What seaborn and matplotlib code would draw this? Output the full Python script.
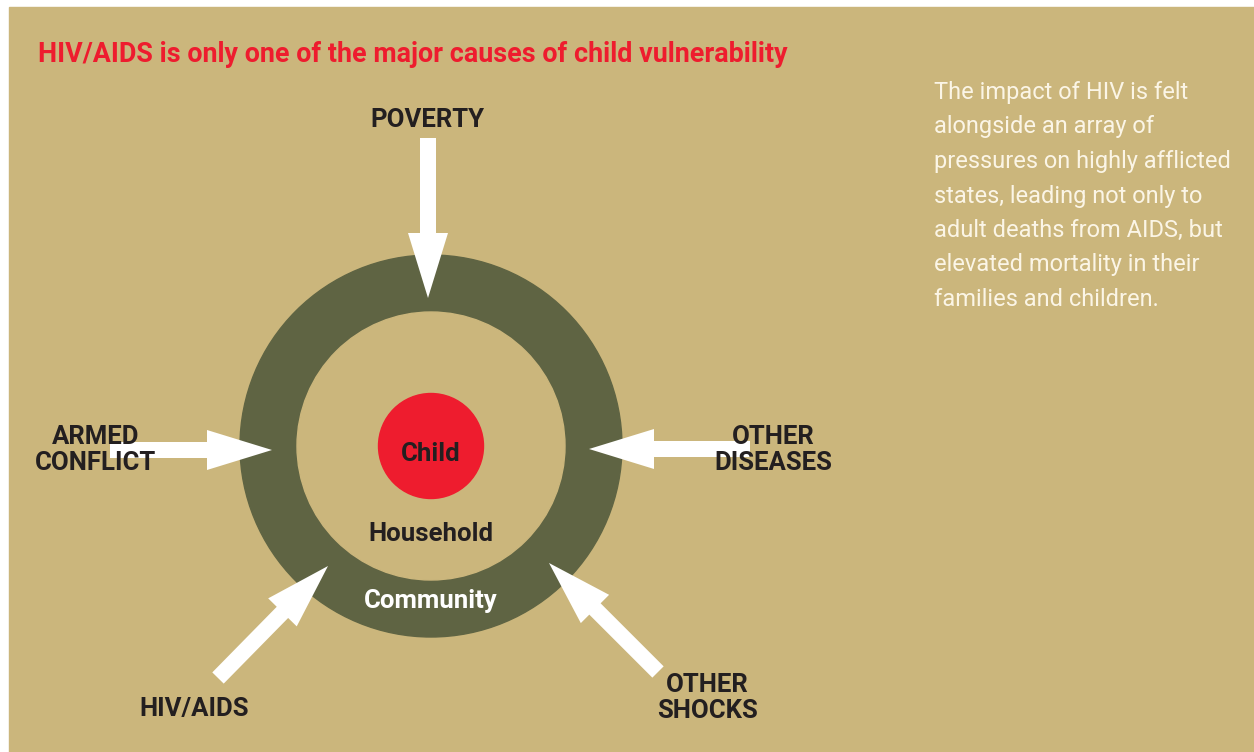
import matplotlib
matplotlib.use('Agg')
from matplotlib import pyplot as plt
from matplotlib.patches import Circle, Rectangle, FancyArrow
import seaborn as sns

# text content of the diagram
title = 'HIV/AIDS is only one of the major causes of child vulnerability'
causes = ['POVERTY', 'ARMED\nCONFLICT', 'OTHER\nDISEASES', 'HIV/AIDS', 'OTHER\nSHOCKS']
levels = ['Child', 'Household', 'Community']
note_lines = ['The impact of HIV is felt',
              'alongside an array of',
              'pressures on highly afflicted',
              'states, leading not only to',
              'adult deaths from AIDS, but',
              'elevated mortality in their',
              'families and children.']

# colours
tan = '#CBB67C'
olive = '#5F6443'
red = '#EE1C2E'
dark = '#231F20'
cream = '#FBF5E6'

sns.set_theme(style='white')
plt.rcParams['font.family'] = ['Roboto', 'DejaVu Sans']

fig = plt.figure(figsize=(12.54, 7.52), dpi=100)
ax = fig.add_axes([0, 0, 1, 1])
ax.set_xlim(0, 1254)
ax.set_ylim(752, 0)
ax.set_axis_off()

ax.add_patch(Rectangle((9, 7), 1254, 752, color=tan, zorder=0))

# rings
cx, cy = 431, 446
ax.add_patch(Circle((cx, cy), 191, color=olive, zorder=1))
ax.add_patch(Circle((cx, cy), 134, color=tan, zorder=2))
ax.add_patch(Circle((cx, cy), 52.5, color=red, zorder=3))

# arrows: start -> tip
arrows = [((428, 138), (428, 298)),
          ((110, 450), (272, 450)),
          ((750, 449), (589, 449)),
          ((218, 678), (328, 566)),
          ((658, 672), (549, 563))]
for (x0, y0), (x1, y1) in arrows:
    ax.add_patch(FancyArrow(x0, y0, x1 - x0, y1 - y0, width=16, head_width=40,
                            head_length=65, length_includes_head=True,
                            color='white', lw=0, zorder=4))

# cause labels (x centre, first baseline)
label_pos = [(427, 127), (96, 444), (773, 444), (194, 716), (707, 692)]
for txt, (x, y) in zip(causes, label_pos):
    for i, line in enumerate(txt.split('\n')):
        ax.text(x, y + i * 26.5, line, ha='center', va='baseline', fontsize=18.5,
                fontweight='bold', color=dark, zorder=5)

level_pos = [(431, 461, dark), (431, 541, dark), (431, 608, 'white')]
for txt, (x, y, c) in zip(levels, level_pos):
    ax.text(x, y, txt, ha='center', va='baseline', fontsize=18.5,
            fontweight='bold', color=c, zorder=5)

ax.text(38, 62, title, ha='left', va='baseline', fontsize=19.4,
        fontweight='bold', color=red, zorder=5)

for i, line in enumerate(note_lines):
    ax.text(934, 99 + i * 34.5, line, ha='left', va='baseline', fontsize=17,
            color=cream, zorder=5)

fig.savefig('out.png', dpi=100, facecolor='white')
